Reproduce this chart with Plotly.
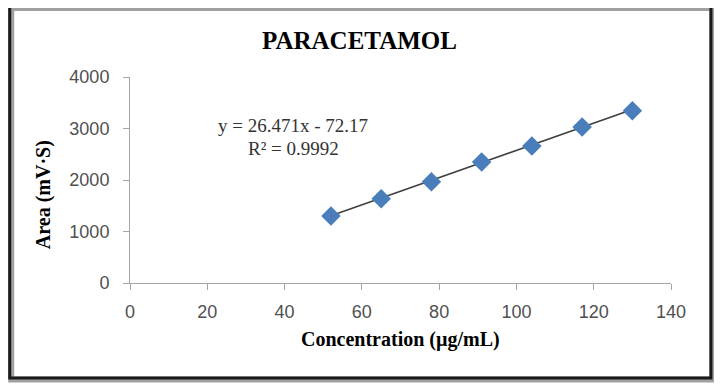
import plotly.graph_objects as go

# Data
concentration = [52, 65, 78, 91, 104, 117, 130]
area = [1300, 1635, 1965, 2350, 2660, 3030, 3345]
slope = 26.471
intercept = -72.17
r_squared = 0.9992
x_ticks = [0, 20, 40, 60, 80, 100, 120, 140]
y_ticks = [0, 1000, 2000, 3000, 4000]

x_line = [min(concentration), max(concentration)]
y_line = [slope * x + intercept for x in x_line]

fig = go.Figure()
fig.add_trace(go.Scatter(x=x_line, y=y_line, mode="lines",
                         line=dict(color="#404040", width=1.5), showlegend=False, hoverinfo="skip"))
fig.add_trace(go.Scatter(x=concentration, y=area, mode="markers",
                         marker=dict(symbol="diamond", size=15, color="#4A7EBB",
                                     line=dict(width=0)),
                         showlegend=False))

OFF = 8  # page body margin
W, H = 714, 380
# plot area in screen pixels
SX0, SX1, SY0, SY1 = 129.5, 671.5, 77.3, 282.7
L = SX0 - OFF
R = W - (SX1 - OFF)
T = SY0 - OFF
B = H - (SY1 - OFF)
pw, ph = SX1 - SX0, SY1 - SY0

def px(x):
    return (x - SX0) / pw

def py(y):
    return (SY1 - y) / ph

shapes = [
    dict(type="rect", xref="paper", yref="paper", x0=px(10.5), x1=px(713), y0=py(379), y1=py(8.5),
         line=dict(color="#a0a0a0", width=6), layer="above"),
    dict(type="rect", xref="paper", yref="paper", x0=px(9), x1=px(711.5), y0=py(377.5), y1=py(6.5),
         line=dict(color="#1a1a1a", width=3), layer="above"),
]

axis_common = dict(showgrid=False, zeroline=False, showline=True, linecolor="#a6a6a6",
                   linewidth=1, ticks="outside", ticklen=6, tickcolor="#a6a6a6",
                   tickfont=dict(family="Liberation Sans", size=18, color="#505050"))

fig.update_layout(
    width=W, height=H,
    margin=dict(l=L, r=R, t=T, b=B),
    paper_bgcolor="white", plot_bgcolor="white",
    xaxis=dict(range=[0, 140], tickvals=x_ticks, ticklabelstandoff=6, **axis_common),
    yaxis=dict(range=[0, 4000], tickvals=y_ticks, ticklabelstandoff=10, **axis_common),
    shapes=shapes,
    annotations=[
        dict(xref="paper", yref="paper", x=px(359), y=py(41), xanchor="center", yanchor="middle",
             text="<b>PARACETAMOL</b>", showarrow=False,
             font=dict(family="Liberation Serif", size=25, color="#000000")),
        dict(xref="paper", yref="paper", x=px(401), y=py(339), xanchor="center", yanchor="middle",
             text="<b>Concentration (µg/mL)</b>", showarrow=False,
             font=dict(family="Liberation Serif", size=20, color="#000000")),
        dict(xref="paper", yref="paper", x=px(42.5), y=py(195), xanchor="center", yanchor="middle",
             text="<b>Area (mV·S)</b>", showarrow=False, textangle=-90,
             font=dict(family="Liberation Serif", size=20, color="#000000")),
        dict(xref="paper", yref="paper", x=px(293), y=py(126), xanchor="center", yanchor="middle",
             text=f"y = {slope}x - {abs(intercept)}", showarrow=False,
             font=dict(family="Liberation Serif", size=19, color="#333333")),
        dict(xref="paper", yref="paper", x=px(293), y=py(149), xanchor="center", yanchor="middle",
             text=f"R² = {r_squared}", showarrow=False,
             font=dict(family="Liberation Serif", size=19, color="#333333")),
    ],
)

fig.write_html("out.html")
